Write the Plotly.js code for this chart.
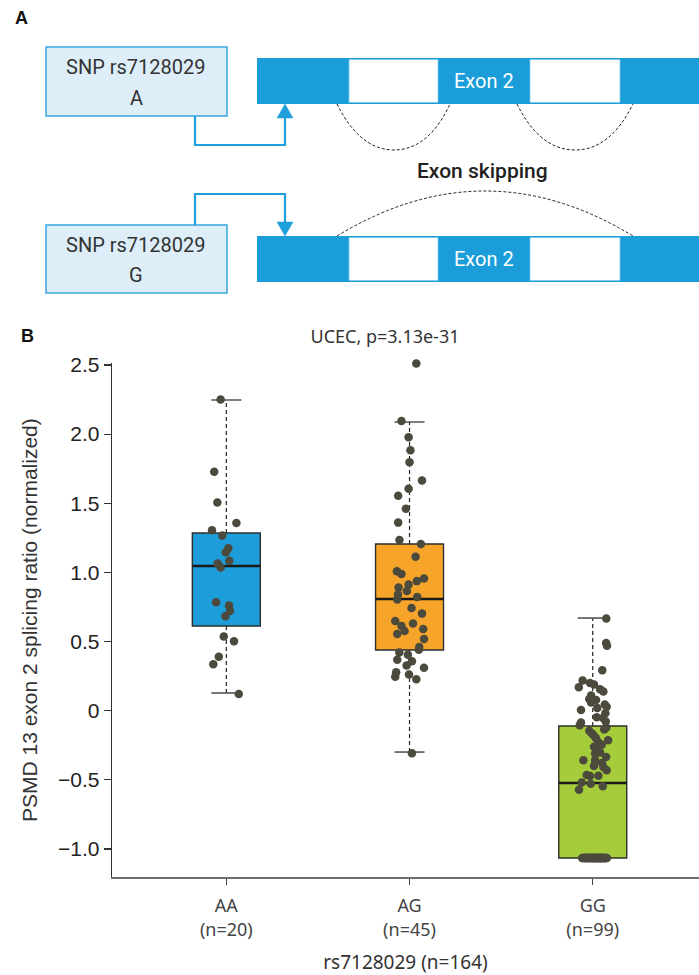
<!DOCTYPE html>
<html>
<head>
<meta charset="utf-8">
<script src="https://cdn.plot.ly/plotly-3.0.1.min.js"></script>
<style>html,body{margin:0;padding:0;background:#fff;}#chart{width:699px;height:975px;}</style>
</head>
<body>
<div id="chart"></div>
<script>
// ---------- data ----------
const categories = ['AA', 'AG', 'GG'];
const counts = [20, 45, 99];
const totalN = 164;
const q1 = [0.612, 0.439, -1.065];
const medians = [1.046, 0.808, -0.523];
const q3 = [1.285, 1.205, -0.111];
const whiskerLow = [0.128, -0.299, -1.065];
const whiskerHigh = [2.247, 2.088, 0.670];
const boxColors = ['#1d9dd9', '#f6a42a', '#a5cd3b'];

const aaValues = [2.251, 1.728, 1.506, 1.358, 1.305, 1.266, 1.174, 1.145, 1.084, 1.065,
  1.036, 0.784, 0.760, 0.721, 0.683, 0.537, 0.503, 0.390, 0.336, 0.121];
const aaJitter = [-0.031, -0.066, -0.049, 0.055, -0.078, -0.022, 0.011, -0.003, 0.016, -0.047,
  -0.031, -0.056, 0.015, 0.020, -0.005, -0.014, 0.042, -0.041, -0.071, 0.068];

const agValues = [2.51, 2.094, 1.978, 1.883, 1.796, 1.665, 1.605, 1.554, 1.46, 1.36,
  1.235, 1.206, 1.113, 1.009, 0.988, 0.956, 0.937, 0.913, 0.891, 0.866,
  0.84, 0.823, 0.804, 0.743, 0.702, 0.649, 0.63, 0.612, 0.59, 0.576,
  0.554, 0.518, 0.46, 0.44, 0.421, 0.404, 0.368, 0.358, 0.327, 0.31,
  0.278, 0.261, 0.245, 0.228, -0.307];
const agJitter = [0.037, -0.044, -0.005, 0.005, 0.0, 0.068, -0.005, -0.062, -0.02, -0.062,
  -0.055, 0.062, 0.033, -0.069, -0.044, 0.079, 0.04, -0.005, -0.06, -0.014,
  -0.063, 0.042, -0.067, 0.011, 0.068, -0.078, 0.019, -0.044, 0.075, -0.027,
  -0.067, 0.079, 0.053, 0.051, -0.056, -0.009, -0.067, 0.013, -0.016, 0.079,
  -0.073, -0.003, -0.078, 0.037, 0.013];

const ggValues = [0.666, 0.489, 0.47, 0.293, 0.218, 0.201, 0.189, 0.17, 0.155, 0.138,
  0.109, 0.085, 0.077, 0.06, 0.044, 0.029, 0.019, 0.005, -0.019, -0.048,
  -0.053, -0.078, -0.085, -0.106, -0.121, -0.135, -0.145, -0.164, -0.181, -0.199,
  -0.213, -0.23, -0.247, -0.261, -0.281, -0.303, -0.31, -0.334, -0.358, -0.358,
  -0.378, -0.399, -0.407, -0.431, -0.465, -0.472, -0.47, -0.52, -0.528, -0.547,
  -0.571,
  -1.065, -1.065, -1.065, -1.065, -1.065, -1.065, -1.065, -1.065, -1.065, -1.065,
  -1.065, -1.065, -1.065, -1.065, -1.065, -1.065, -1.065, -1.065, -1.065, -1.065,
  -1.065, -1.065, -1.065, -1.065, -1.065, -1.065, -1.065, -1.065, -1.065, -1.065,
  -1.065, -1.065, -1.065, -1.065, -1.065, -1.065, -1.065, -1.065, -1.065, -1.065,
  -1.065, -1.065, -1.065, -1.065, -1.065, -1.065, -1.065, -1.065];
const ggJitter = [0.074, 0.073, 0.078, 0.052, -0.055, -0.015, 0.007, -0.076, 0.04, 0.058,
  -0.009, -0.019, 0.018, -0.009, 0.066, 0.076, 0.025, -0.064, 0.069, 0.022,
  0.056, 0.071, -0.064, -0.071, 0.074, 0.063, -0.019, -0.005, 0.007, 0.018,
  0.084, 0.031, 0.049, 0.007, 0.022, 0.04, 0.013, 0.073, -0.051, 0.013,
  0.051, 0.007, 0.058, 0.076, -0.033, -0.015, 0.031, -0.06, -0.011, 0.055,
  -0.075,
  -0.058, -0.049, -0.043, -0.037, -0.029, -0.022, -0.017, -0.011, -0.004, 0.003,
  0.008, 0.016, 0.021, 0.027, 0.034, 0.041, 0.046, 0.052, 0.059, 0.065,
  0.071, 0.077, -0.054, -0.040, -0.026, -0.014, -0.002, 0.011, 0.023, 0.036,
  0.044, 0.057, 0.068, -0.046, -0.020, 0.005, 0.029, 0.050, 0.074, -0.033,
  -0.008, 0.014, 0.039, 0.062, -0.038, 0.001, 0.048, 0.031];

const groupValues = [aaValues, agValues, ggValues];
const groupJitter = [aaJitter, agJitter, ggJitter];

const yTickVals = [-1, -0.5, 0, 0.5, 1, 1.5, 2, 2.5];
const yTickText = ['\u22121.0', '\u22120.5', '0', '0.5', '1.0', '1.5', '2.0', '2.5'];

// ---------- traces ----------
const boxWidth = 0.371, capHalf = 0.082;
const traces = [];
categories.forEach((c, i) => {
  traces.push({
    type: 'box', x: [i], q1: [q1[i]], median: [medians[i]], q3: [q3[i]],
    lowerfence: [q1[i]], upperfence: [q3[i]], width: boxWidth, whiskerwidth: 0,
    fillcolor: boxColors[i], line: {color: '#2e2e2e', width: 1.4},
    boxpoints: false, hoverinfo: 'skip', showlegend: false, xaxis: 'x', yaxis: 'y'
  });
});
categories.forEach((c, i) => {
  traces.push({
    type: 'scatter', mode: 'lines', x: [i, i, null, i, i],
    y: [q3[i], whiskerHigh[i], null, q1[i], whiskerLow[i]],
    line: {color: '#222', width: 1.2, dash: '4px,3px'}, hoverinfo: 'skip', showlegend: false
  });
  traces.push({
    type: 'scatter', mode: 'lines', x: [i - capHalf, i + capHalf, null, i - capHalf, i + capHalf],
    y: [whiskerHigh[i], whiskerHigh[i], null, whiskerLow[i], whiskerLow[i]],
    line: {color: '#555', width: 1.6}, hoverinfo: 'skip', showlegend: false
  });
  traces.push({
    type: 'scatter', mode: 'lines', x: [i - boxWidth / 2, i + boxWidth / 2], y: [medians[i], medians[i]],
    line: {color: '#1a1a1a', width: 2.6}, hoverinfo: 'skip', showlegend: false
  });
});
categories.forEach((c, i) => {
  traces.push({
    type: 'scatter', mode: 'markers', cliponaxis: false,
    x: groupValues[i].map((v, k) => i + groupJitter[i][k]), y: groupValues[i],
    marker: {size: 8.5, color: '#4b4a3d'}, hoverinfo: 'skip', showlegend: false
  });
});
// empty trace for the diagram canvas axes
traces.push({type: 'scatter', x: [], y: [], xaxis: 'x2', yaxis: 'y2', hoverinfo: 'skip', showlegend: false});

// ---------- panel A diagram (pixel canvas on x2/y2) ----------
const blue = '#1b9dd9';
const shapes = [];
function rect(x0, y0, x1, y1, fill, lineColor, lw) {
  shapes.push({type: 'rect', xref: 'x2', yref: 'y2', x0, y0, x1, y1, fillcolor: fill,
    line: {color: lineColor || fill, width: lw === undefined ? 0 : lw}, layer: 'above'});
}
function path(d, color, width, dash, fill) {
  shapes.push({type: 'path', xref: 'x2', yref: 'y2', path: d, fillcolor: fill || 'rgba(0,0,0,0)',
    line: {color, width, dash: dash || 'solid'}, layer: 'above'});
}
// SNP boxes
rect(46, 47, 227, 116, '#ddeef9', '#3aa6de', 1.5);
rect(46, 225, 227, 293, '#ddeef9', '#3aa6de', 1.5);
// exon bars
[[58, 104], [236, 282]].forEach(([t, b]) => {
  rect(257, t, 700, b, blue);
  rect(349, t + 1.5, 438, b - 1.5, '#ffffff', '#7cc6ea', 0.8);
  rect(530, t + 1.5, 620, b - 1.5, '#ffffff', '#7cc6ea', 0.8);
});
// arrows
path('M 195 116 L 195 145 L 285 145 L 285 118', '#1f9fdb', 2.2);
path('M 277 118 L 293 118 L 285 104 Z', '#1f9fdb', 0.5, 'solid', '#1f9fdb');
path('M 195 225 L 195 194 L 285 194 L 285 222', '#1f9fdb', 2.2);
path('M 277 222 L 293 222 L 285 236 Z', '#1f9fdb', 0.5, 'solid', '#1f9fdb');
// splicing arcs
path('M 337 104 C 350 130, 368 150, 394 150 C 420 150, 438 130, 450 104', '#222', 1, '3px,2px');
path('M 517 104 C 530 130, 548 150, 575 150 C 602 150, 620 130, 633 104', '#222', 1, '3px,2px');
path('M 337 236 Q 485 146 633 236', '#222', 1, '3px,2px');

const diagFont = {family: 'Roboto, Noto Sans, sans-serif', size: 20, color: '#333'};
function note(text, x, y, font) {
  return {xref: 'x2', yref: 'y2', x, y, text, showarrow: false, xanchor: 'center', yanchor: 'middle', font};
}
const annotations = [
  note('<b>A</b>', 21, 18, {family: 'Liberation Sans, Arial, sans-serif', size: 18, color: '#111'}),
  note('<b>B</b>', 27, 336, {family: 'Liberation Sans, Arial, sans-serif', size: 18, color: '#111'}),
  note('SNP rs7128029', 136, 67, diagFont),
  note('A', 136, 98, diagFont),
  note('SNP rs7128029', 136, 245, diagFont),
  note('G', 136, 275, diagFont),
  note('Exon 2', 484, 81, {family: 'Roboto, sans-serif', size: 20, color: '#ffffff'}),
  note('Exon 2', 484, 259, {family: 'Roboto, sans-serif', size: 20, color: '#ffffff'}),
  note('Exon skipping', 482, 171, {family: 'Roboto, sans-serif', size: 21, color: '#222', weight: 500})
];

const layout = {
  width: 699, height: 975,
  margin: {l: 0, r: 0, t: 0, b: 0},
  paper_bgcolor: '#ffffff', plot_bgcolor: 'rgba(0,0,0,0)',
  showlegend: false, boxmode: 'overlay',
  title: {text: 'UCEC, p=3.13e-31', font: {family: 'Noto Sans, sans-serif', size: 18, color: '#333'},
    x: 385 / 699, xref: 'paper', xanchor: 'center', y: 1 - 337 / 975, yref: 'paper', yanchor: 'middle'},
  xaxis: {
    domain: [112 / 699, 1], range: [-0.624, 2.58], anchor: 'y',
    showline: true, linecolor: '#6e6e6e', linewidth: 1.5,
    ticks: 'outside', ticklen: 6, tickwidth: 1.2, tickcolor: '#444',
    tickvals: [0, 1, 2], ticktext: categories.map((c, i) => c + '<br>(n=' + counts[i] + ')'),
    tickfont: {family: 'Noto Sans, sans-serif', size: 18, color: '#444'}, ticklabelstandoff: 6,
    showgrid: false, zeroline: false, fixedrange: true,
    title: {text: 'rs7128029 (n=' + totalN + ')', font: {family: 'Noto Sans, sans-serif', size: 19, color: '#333'}, standoff: 18}
  },
  yaxis: {
    domain: [98 / 975, 611.7 / 975], range: [-1.2025, 2.512], anchor: 'x',
    showline: true, linecolor: '#333', linewidth: 1.3,
    ticks: 'outside', ticklen: 7, tickwidth: 1.2, tickcolor: '#333',
    tickvals: yTickVals, ticktext: yTickText,
    tickfont: {family: 'Liberation Sans, Arial, sans-serif', size: 21, color: '#222'},
    showgrid: false, zeroline: false, fixedrange: true,
    title: {text: 'PSMD 13 exon 2 splicing ratio (normalized)', font: {family: 'Liberation Sans, Arial, sans-serif', size: 21, color: '#333'}, standoff: 14}
  },
  xaxis2: {domain: [0, 1], range: [0, 699], anchor: 'y2', visible: false, fixedrange: true},
  yaxis2: {domain: [0, 1], range: [975, 0], anchor: 'x2', visible: false, fixedrange: true},
  shapes, annotations
};

Plotly.newPlot('chart', traces, layout, {staticPlot: true, displayModeBar: false});
</script>
</body>
</html>
